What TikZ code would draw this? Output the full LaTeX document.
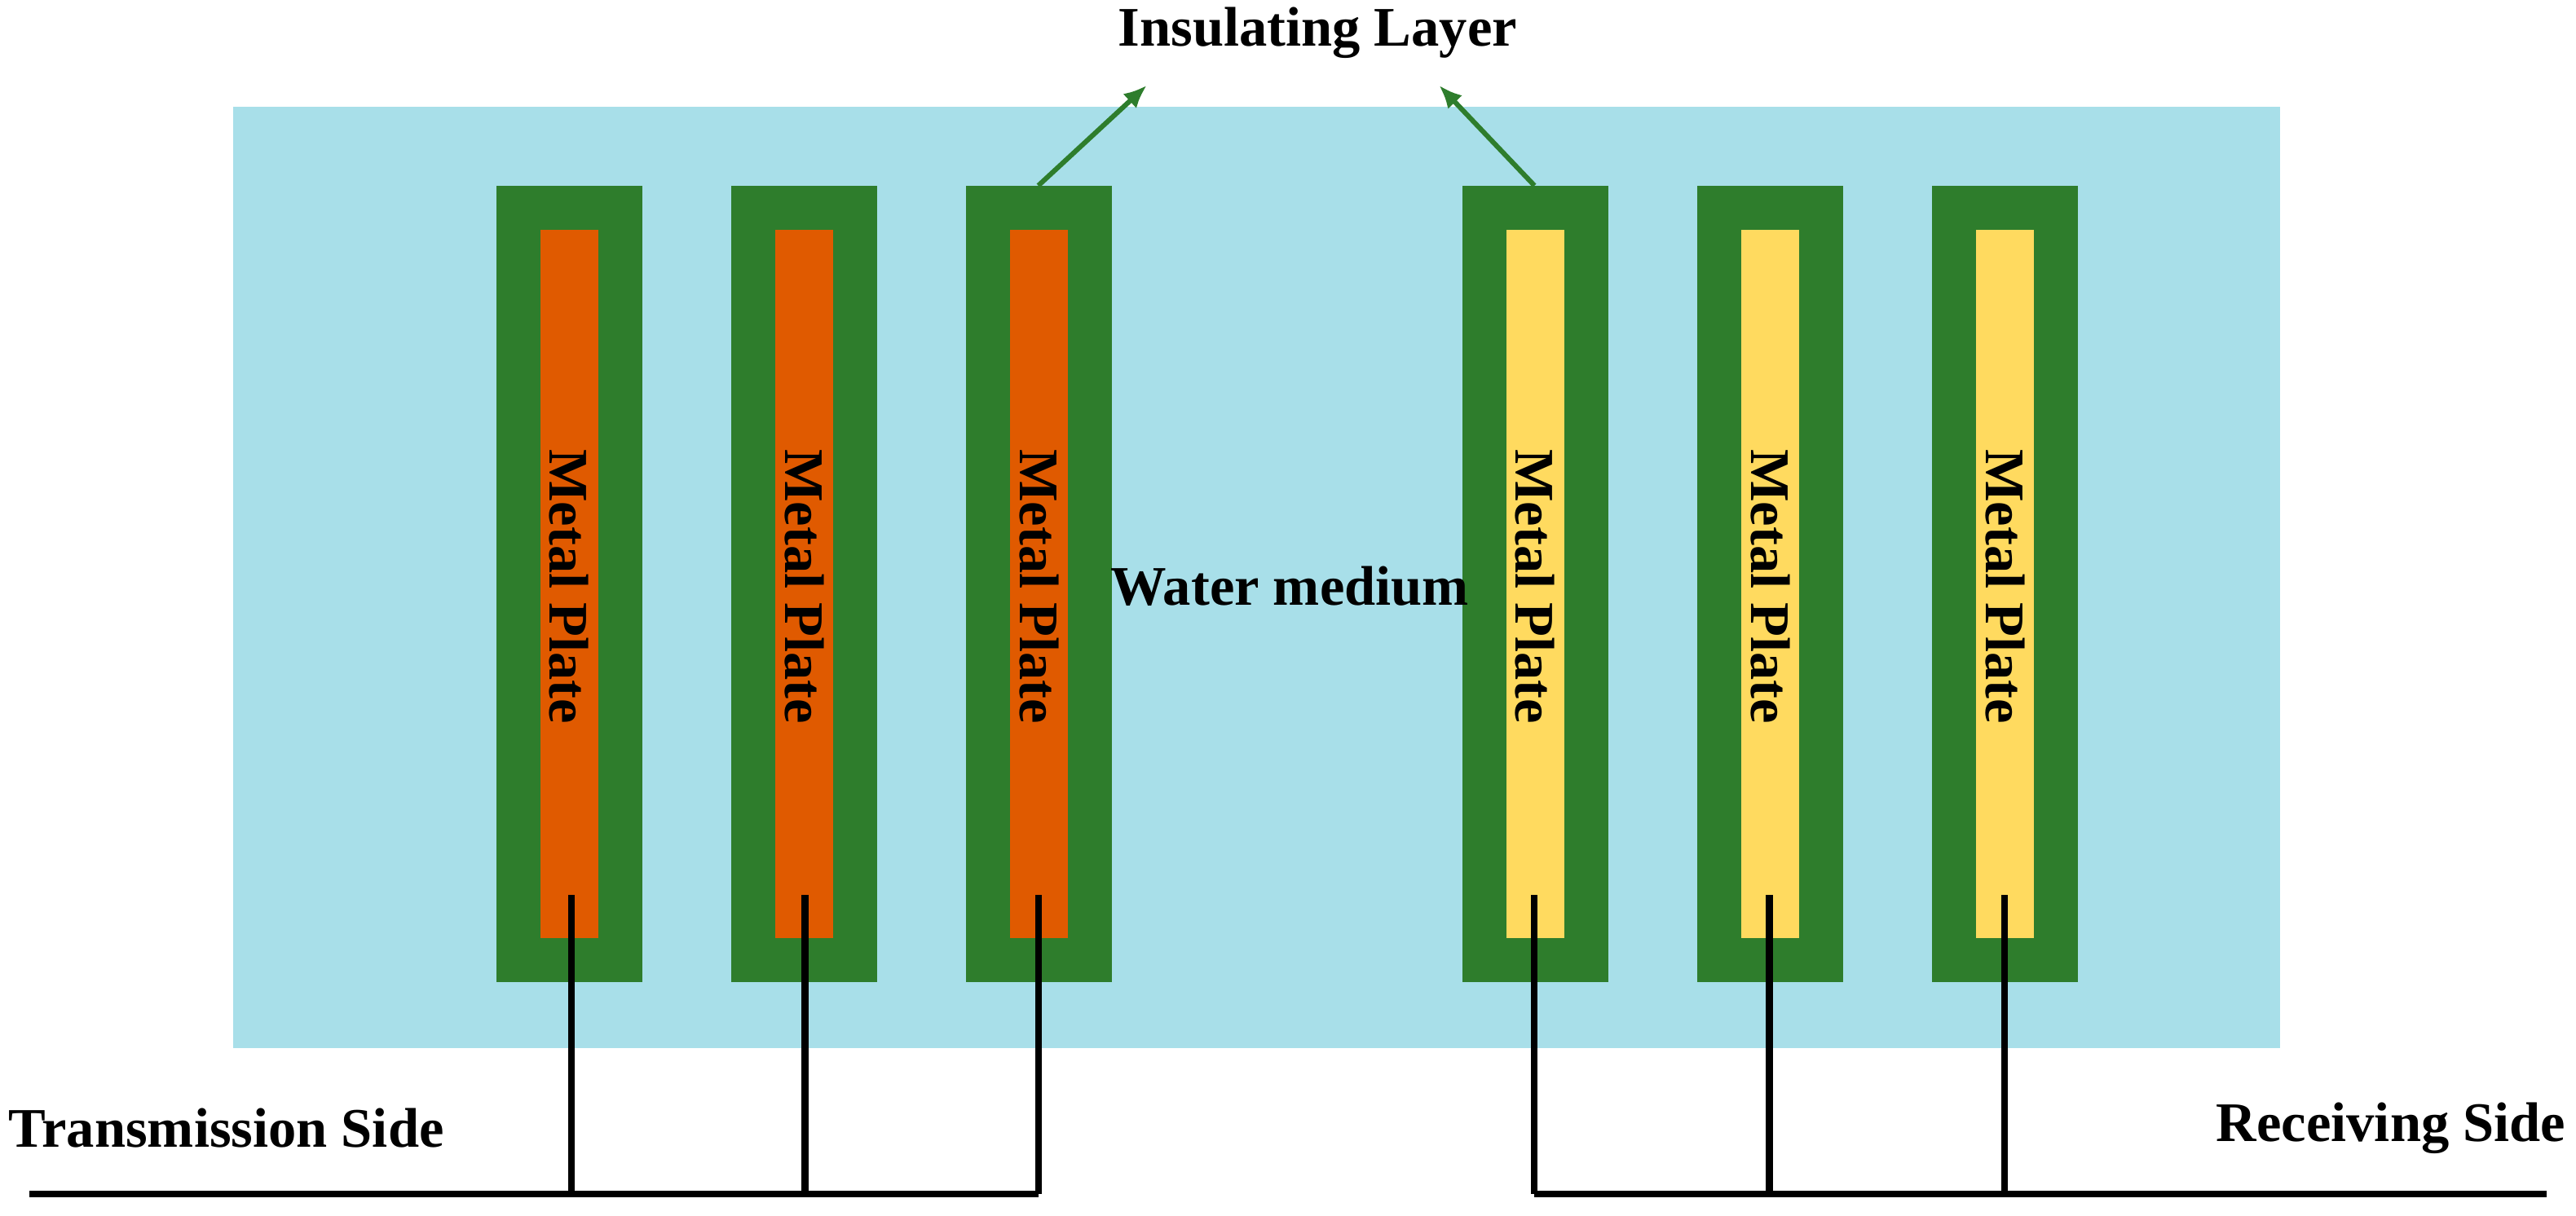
\documentclass[tikz,border=0pt]{standalone}
\usepackage{fontspec}
\setmainfont{Liberation Serif}
\usetikzlibrary{arrows.meta}
\begin{document}
\begin{tikzpicture}[x=0.5pt,y=-0.5pt]
\definecolor{water}{HTML}{A8DFE9}
\definecolor{insc}{HTML}{2E7D2C}
\definecolor{orng}{HTML}{E05A00}
\definecolor{yel}{HTML}{FFDA5F}
\tikzset{wire/.style={line width=2pt,black},
  lbl/.style={font=\bfseries\fontsize{17}{19}\selectfont,inner sep=0pt},
  arr/.style={draw=insc,line width=1.5pt,-{Latex[length=7pt,width=6pt]}}}
\useasboundingbox (0,0) rectangle (1568,740);
\fill[water] (142,65) rectangle (1388,638);
\foreach \x/\c/\n in {302/orng/a,445/orng/b,588/orng/c,890/yel/d,1033/yel/e,1176/yel/f}{
  \fill[insc] (\x,113) rectangle ++(89,485);
  \fill[\c] (\x+27,140) rectangle ++(35,431);
  \node[lbl,rotate=-90] (p\n) at (\x+44.5,357) {Metal Plate};
}
\coordinate (ta) at (348,545); \coordinate (tb) at (490,545); \coordinate (tc) at (632,545);
\coordinate (ra) at (934,545); \coordinate (rb) at (1077,545); \coordinate (rc) at (1220,545);
\coordinate (tl) at (18,727); \coordinate (rr) at (1550,727);
\draw[wire] (tl) -- (632,727);
\draw[wire] (934,727) -- (rr);
\foreach \p in {ta,tb,tc,ra,rb,rc}{\draw[wire] (\p) -- (\p |- tl);}
\node[lbl] (ins) at (802,20) {Insulating Layer};
\coordinate (i1) at (632,113); \coordinate (i2) at (934,113);
\draw[arr] (i1) -- (698,52);
\draw[arr] (i2) -- (876,52);
\node[lbl] (w) at (785,357) {Water medium};
\node[lbl,anchor=west] (ts) at (5,687) {Transmission Side};
\node[lbl,anchor=east] (rs) at (1562,687) {Receiving Side};
\end{tikzpicture}
\end{document}
